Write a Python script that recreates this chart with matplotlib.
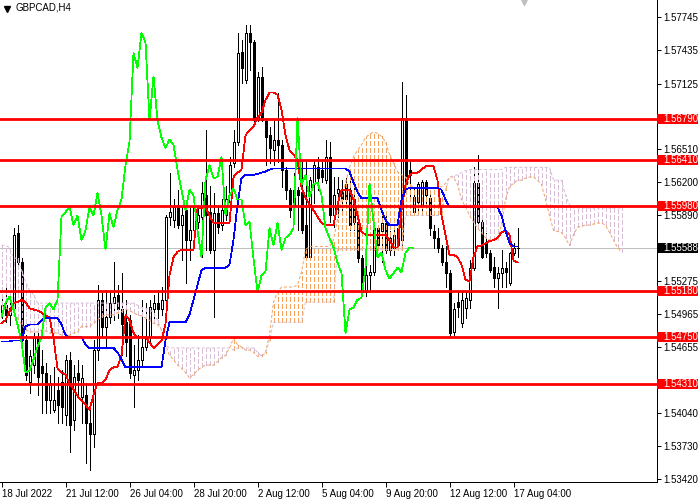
import matplotlib
matplotlib.use('Agg')
import matplotlib.pyplot as plt
import numpy as np
from matplotlib.patches import Rectangle
from matplotlib.lines import Line2D
import matplotlib.transforms as mtransforms

plt.rcParams['font.family'] = ['Liberation Sans', 'DejaVu Sans']
plt.rcParams['lines.scale_dashes'] = False

symbol = 'GBPCAD,H4'
date_labels = ['18 Jul 2022', '21 Jul 12:00', '26 Jul 04:00', '28 Jul 20:00', '2 Aug 12:00',
               '5 Aug 04:00', '9 Aug 20:00', '12 Aug 12:00', '17 Aug 04:00']
date_label_bars = [0, 16, 32, 48, 64, 80, 96, 112, 128]

opens = [1.5499, 1.5505, 1.5496, 1.5502, 1.5573, 1.5545, 1.5472, 1.5433, 1.5449, 1.5474,
         1.5448, 1.5442, 1.5416, 1.5407, 1.5426, 1.5433, 1.5402, 1.5454, 1.5398, 1.5442,
         1.5419, 1.5421, 1.5395, 1.5384, 1.5463, 1.5510, 1.5485, 1.5494, 1.5507, 1.5515,
         1.5501, 1.5489, 1.5491, 1.5440, 1.5444, 1.5454, 1.5466, 1.5475, 1.5501, 1.5507,
         1.5501, 1.5510, 1.5588, 1.5585, 1.5599, 1.5580, 1.5594, 1.5566, 1.5575, 1.5583,
         1.5588, 1.5608, 1.5592, 1.5557, 1.5591, 1.5580, 1.5589, 1.5602, 1.5638, 1.5658,
         1.5742, 1.5716, 1.5760, 1.5751, 1.5678, 1.5719, 1.5677, 1.5664, 1.5650, 1.5660,
         1.5655, 1.5632, 1.5613, 1.5599, 1.5613, 1.5611, 1.5580, 1.5550, 1.5618, 1.5634,
         1.5632, 1.5622, 1.5644, 1.5589, 1.5610, 1.5614, 1.5618, 1.5613, 1.5604, 1.5583,
         1.5549, 1.5517, 1.5533, 1.5536, 1.5577, 1.5574, 1.5582, 1.5557, 1.5559, 1.5561,
         1.5566, 1.5680, 1.5632, 1.5592, 1.5602, 1.5599, 1.5620, 1.5605, 1.5574, 1.5568,
         1.5559, 1.5545, 1.5535, 1.5480, 1.5508, 1.5488, 1.5502, 1.5510, 1.5540, 1.5619,
         1.5583, 1.5563, 1.5554, 1.5541, 1.5530, 1.5535, 1.5540, 1.5526, 1.5554, 1.5559]
highs = [1.5512, 1.5522, 1.5508, 1.5577, 1.5580, 1.5549, 1.5477, 1.5463, 1.5482, 1.5484,
         1.5463, 1.5451, 1.5440, 1.5447, 1.5438, 1.5444, 1.5458, 1.5461, 1.5449, 1.5454,
         1.5449, 1.5432, 1.5407, 1.5472, 1.5524, 1.5516, 1.5519, 1.5517, 1.5545, 1.5524,
         1.5535, 1.5510, 1.5496, 1.5468, 1.5477, 1.5510, 1.5507, 1.5510, 1.5515, 1.5519,
         1.5522, 1.5589, 1.5629, 1.5604, 1.5613, 1.5597, 1.5599, 1.5597, 1.5604, 1.5599,
         1.5620, 1.5669, 1.5617, 1.5610, 1.5599, 1.5604, 1.5617, 1.5644, 1.5669, 1.5760,
         1.5753, 1.5767, 1.5767, 1.5753, 1.5723, 1.5728, 1.5680, 1.5672, 1.5677, 1.5704,
         1.5660, 1.5634, 1.5615, 1.5629, 1.5616, 1.5641, 1.5641, 1.5625, 1.5641, 1.5644,
         1.5639, 1.5660, 1.5658, 1.5625, 1.5625, 1.5622, 1.5624, 1.5627, 1.5618, 1.5589,
         1.5552, 1.5545, 1.5543, 1.5583, 1.5580, 1.5589, 1.5589, 1.5574, 1.5580, 1.5583,
         1.5714, 1.5702, 1.5641, 1.5615, 1.5620, 1.5622, 1.5622, 1.5608, 1.5580, 1.5577,
         1.5561, 1.5560, 1.5538, 1.5507, 1.5517, 1.5517, 1.5517, 1.5547, 1.5634, 1.5646,
         1.5585, 1.5573, 1.5557, 1.5550, 1.5541, 1.5557, 1.5545, 1.5555, 1.5563, 1.5577]
lows = [1.5493, 1.5489, 1.5486, 1.5499, 1.5540, 1.5468, 1.5435, 1.5423, 1.5442, 1.5421,
        1.5404, 1.5404, 1.5404, 1.5405, 1.5395, 1.5395, 1.5393, 1.5368, 1.5388, 1.5421,
        1.5395, 1.5357, 1.5351, 1.5372, 1.5454, 1.5475, 1.5466, 1.5488, 1.5491, 1.5493,
        1.5458, 1.5457, 1.5437, 1.5410, 1.5435, 1.5449, 1.5463, 1.5468, 1.5491, 1.5493,
        1.5496, 1.5501, 1.5580, 1.5578, 1.5577, 1.5547, 1.5526, 1.5547, 1.5571, 1.5577,
        1.5550, 1.5557, 1.5554, 1.5494, 1.5573, 1.5575, 1.5585, 1.5599, 1.5634, 1.5655,
        1.5713, 1.5713, 1.5725, 1.5677, 1.5677, 1.5677, 1.5636, 1.5638, 1.5636, 1.5639,
        1.5616, 1.5604, 1.5588, 1.5588, 1.5575, 1.5573, 1.5549, 1.5549, 1.5601, 1.5613,
        1.5620, 1.5619, 1.5583, 1.5578, 1.5588, 1.5594, 1.5599, 1.5575, 1.5575, 1.5545,
        1.5515, 1.5514, 1.5519, 1.5533, 1.5557, 1.5545, 1.5554, 1.5552, 1.5552, 1.5559,
        1.5561, 1.5615, 1.5604, 1.5589, 1.5589, 1.5591, 1.5597, 1.5571, 1.5559, 1.5555,
        1.5543, 1.5522, 1.5475, 1.5477, 1.5494, 1.5485, 1.5493, 1.5502, 1.5538, 1.5582,
        1.5549, 1.5550, 1.5536, 1.5522, 1.5502, 1.5522, 1.5522, 1.5524, 1.5552, 1.5550]
closes = [1.5505, 1.5496, 1.5502, 1.5571, 1.5545, 1.5472, 1.5440, 1.5457, 1.5474, 1.5438,
          1.5442, 1.5416, 1.5432, 1.5416, 1.5412, 1.5410, 1.5454, 1.5393, 1.5438, 1.5435,
          1.5437, 1.5395, 1.5384, 1.5463, 1.5510, 1.5485, 1.5494, 1.5507, 1.5513, 1.5501,
          1.5487, 1.5471, 1.5442, 1.5444, 1.5454, 1.5466, 1.5475, 1.5503, 1.5507, 1.5501,
          1.5510, 1.5588, 1.5592, 1.5597, 1.5580, 1.5589, 1.5566, 1.5575, 1.5597, 1.5589,
          1.5610, 1.5589, 1.5557, 1.5591, 1.5578, 1.5594, 1.5604, 1.5636, 1.5658, 1.5741,
          1.5727, 1.5760, 1.5751, 1.5678, 1.5719, 1.5678, 1.5662, 1.5652, 1.5660, 1.5655,
          1.5632, 1.5613, 1.5594, 1.5613, 1.5608, 1.5575, 1.5550, 1.5622, 1.5636, 1.5624,
          1.5625, 1.5644, 1.5589, 1.5608, 1.5614, 1.5604, 1.5604, 1.5580, 1.5583, 1.5549,
          1.5517, 1.5533, 1.5536, 1.5577, 1.5561, 1.5582, 1.5557, 1.5568, 1.5571, 1.5577,
          1.5680, 1.5618, 1.5627, 1.5606, 1.5618, 1.5620, 1.5608, 1.5577, 1.5568, 1.5559,
          1.5545, 1.5535, 1.5479, 1.5501, 1.5503, 1.5510, 1.5512, 1.5540, 1.5619, 1.5583,
          1.5550, 1.5554, 1.5538, 1.5530, 1.5535, 1.5540, 1.5536, 1.5554, 1.5559, 1.55588]

tenkan = [1.5488, 1.5491, 1.5499, 1.5507, 1.5508, 1.5510, 1.5508, 1.5502, 1.5501, 1.5500,
          1.5498, 1.5495, 1.5494, 1.5474, 1.5446, 1.5442, 1.5440, 1.5432, 1.5426, 1.5420,
          1.5416, 1.5412, 1.5407, 1.5421, 1.5432, 1.5432, 1.5435, 1.5444, 1.5447, 1.5447,
          1.5458, 1.5496, 1.5491, 1.5479, 1.5475, 1.5475, 1.5475, 1.5470, 1.5465, 1.5468,
          1.5472, 1.5487, 1.5533, 1.5550, 1.5555, 1.5557, 1.5557, 1.5557, 1.5557, 1.5596,
          1.5596, 1.5596, 1.5589, 1.5582, 1.5582, 1.5582, 1.5582, 1.5582, 1.5625, 1.5629,
          1.5632, 1.5664, 1.5669, 1.5672, 1.5681, 1.5685, 1.5697, 1.5704, 1.5704, 1.5702,
          1.5688, 1.5664, 1.5650, 1.5646, 1.5641, 1.5615, 1.5606, 1.5599, 1.5594, 1.5588,
          1.5582, 1.5580, 1.5580, 1.5580, 1.5599, 1.5613, 1.5613, 1.5613, 1.5604, 1.5589,
          1.5574, 1.5571, 1.5571, 1.5571, 1.5571, 1.5571, 1.5571, 1.5566, 1.5559, 1.5559,
          1.5594, 1.5618, 1.5627, 1.5629, 1.5629, 1.5632, 1.5635, 1.5635, 1.5635, 1.5622,
          1.5589, 1.5571, 1.5552, 1.5552, 1.5550, 1.5543, 1.5529, 1.5527, 1.5550, 1.5560,
          1.5561, 1.5563, 1.5565, 1.5566, 1.5568, 1.5573, 1.5575, 1.5571, 1.5547, 1.5545]
kijun = [1.5471, 1.5471, 1.5471, 1.5472, 1.5472, 1.5472, 1.5485, 1.5487, 1.5487, 1.5487,
         1.5491, 1.5493, 1.5493, 1.5493, 1.5493, 1.5487, 1.5477, 1.5475, 1.5475, 1.5475,
         1.5475, 1.5468, 1.5465, 1.5465, 1.5465, 1.5465, 1.5465, 1.5465, 1.5465, 1.5461,
         1.5454, 1.5447, 1.5447, 1.5447, 1.5447, 1.5447, 1.5447, 1.5447, 1.5447, 1.5447,
         1.5447, 1.5472, 1.5489, 1.5489, 1.5489, 1.5489, 1.5489, 1.5496, 1.5510, 1.5524,
         1.5538, 1.5540, 1.5540, 1.5540, 1.5540, 1.5540, 1.5540, 1.5543, 1.5566, 1.5599,
         1.5624, 1.5627, 1.5627, 1.5627, 1.5628, 1.5629, 1.5630, 1.5632, 1.5633, 1.5633,
         1.5633, 1.5633, 1.5633, 1.5633, 1.5633, 1.5633, 1.5633, 1.5633, 1.5633, 1.5633,
         1.5633, 1.5633, 1.5633, 1.5633, 1.5633, 1.5633, 1.5633, 1.5630, 1.5620, 1.5611,
         1.5605, 1.5605, 1.5605, 1.5605, 1.5605, 1.5594, 1.5585, 1.5580, 1.5580, 1.5580,
         1.5604, 1.5613, 1.5615, 1.5615, 1.5615, 1.5615, 1.5615, 1.5615, 1.5615, 1.5615,
         1.5613, 1.5604, 1.5597, 1.5597, 1.5597, 1.5597, 1.5597, 1.5597, 1.5597, 1.5597,
         1.5597, 1.5597, 1.5597, 1.5597, 1.5597, 1.5589, 1.5575, 1.5563, 1.5560, 1.5560]
senkou_a = [1.5505, 1.5502, 1.5501, 1.5496, 1.5493, 1.5487, 1.5482, 1.5480, 1.5480, 1.5480,
            1.5482, 1.5481, 1.5479, 1.5479, 1.5479, 1.5477, 1.5475, 1.5477, 1.5479, 1.5480,
            1.5485, 1.5485, 1.5485, 1.5488, 1.5491, 1.5494, 1.5496, 1.5496, 1.5496, 1.5498,
            1.5499, 1.5501, 1.5500, 1.5498, 1.5496, 1.5495, 1.5493, 1.5491, 1.5488, 1.5487,
            1.5482, 1.5468, 1.5458, 1.5454, 1.5449, 1.5446, 1.5442, 1.5437, 1.5440, 1.5444,
            1.5447, 1.5449, 1.5449, 1.5449, 1.5452, 1.5456, 1.5458, 1.5465, 1.5474, 1.5468,
            1.5466, 1.5463, 1.5463, 1.5461, 1.5457, 1.5458, 1.5461, 1.5477, 1.5508, 1.5517,
            1.5522, 1.5522, 1.5522, 1.5522, 1.5524, 1.5536, 1.5557, 1.5560, 1.5560, 1.5560,
            1.5560, 1.5560, 1.5560, 1.5566, 1.5585, 1.5604, 1.5619, 1.5634, 1.5644, 1.5650,
            1.5655, 1.5662, 1.5665, 1.5667, 1.5666, 1.5663, 1.5658, 1.5646, 1.5638, 1.5630,
            1.5627, 1.5625, 1.5618, 1.5615, 1.5615, 1.5615, 1.5615, 1.5615, 1.5615, 1.5615,
            1.5616, 1.5619, 1.5625, 1.5625, 1.5618, 1.5604, 1.5597, 1.5589, 1.5583, 1.5577,
            1.5573, 1.5568, 1.5566, 1.5566, 1.5566, 1.5580, 1.5604, 1.5616, 1.5619, 1.5622,
            1.5622, 1.5624, 1.5625, 1.5625, 1.5622, 1.5618, 1.5604, 1.5589, 1.5575, 1.5574,
            1.5573, 1.5568, 1.5561, 1.5571, 1.5578, 1.5579, 1.5580, 1.5580, 1.5581, 1.5582,
            1.5582, 1.5580, 1.5573, 1.5566, 1.5559, 1.5555]
senkou_b = [1.5561, 1.5561, 1.5559, 1.5549, 1.5549, 1.5538, 1.5527, 1.5519, 1.5515, 1.5507,
            1.5507, 1.5507, 1.5507, 1.5507, 1.5507, 1.5507, 1.5507, 1.5507, 1.5507, 1.5507,
            1.5507, 1.5507, 1.5507, 1.5507, 1.5507, 1.5507, 1.5507, 1.5507, 1.5507, 1.5507,
            1.5507, 1.5507, 1.5507, 1.5507, 1.5505, 1.5503, 1.5502, 1.5501, 1.5498, 1.5491,
            1.5482, 1.5468, 1.5465, 1.5465, 1.5465, 1.5465, 1.5465, 1.5465, 1.5465, 1.5465,
            1.5465, 1.5465, 1.5465, 1.5465, 1.5465, 1.5465, 1.5465, 1.5465, 1.5463, 1.5465,
            1.5465, 1.5465, 1.5465, 1.5465, 1.5461, 1.5457, 1.5460, 1.5472, 1.5489, 1.5489,
            1.5489, 1.5489, 1.5489, 1.5489, 1.5489, 1.5489, 1.5508, 1.5508, 1.5508, 1.5508,
            1.5508, 1.5508, 1.5508, 1.5508, 1.5557, 1.5557, 1.5557, 1.5557, 1.5557, 1.5557,
            1.5557, 1.5557, 1.5557, 1.5557, 1.5557, 1.5557, 1.5557, 1.5557, 1.5557, 1.5557,
            1.5557, 1.5589, 1.5589, 1.5589, 1.5589, 1.5589, 1.5589, 1.5589, 1.5589, 1.5589,
            1.5589, 1.5613, 1.5625, 1.5626, 1.5627, 1.5629, 1.5631, 1.5632, 1.5632, 1.5632,
            1.5632, 1.5632, 1.5632, 1.5632, 1.5632, 1.5632, 1.5634, 1.5634, 1.5634, 1.5634,
            1.5634, 1.5634, 1.5634, 1.5634, 1.5634, 1.5634, 1.5634, 1.5634, 1.5622, 1.5622,
            1.5622, 1.5608, 1.5599, 1.5596, 1.5596, 1.5596, 1.5596, 1.5596, 1.5596, 1.5596,
            1.5596, 1.5596, 1.5596, 1.5596, 1.5596, 1.5596]
chikou_shift = 26

level_prices = [1.56790, 1.56410, 1.55980, 1.55180, 1.54750, 1.54310]
current_price = 1.55588
price_ticks = [1.57745, 1.57435, 1.57125, 1.56510, 1.56200, 1.55890,
               1.55275, 1.54965, 1.54655, 1.54040, 1.53730, 1.53420]

W, H = 700, 500
PLOT_W, PLOT_H = 657, 482
BAR_PX = 4.0
Y_TOP, Y_BOT = 1.57907, 1.53395

fig = plt.figure(figsize=(W / 100, H / 100), dpi=100)
fig.patch.set_facecolor('white')
ax = fig.add_axes([0, (H - PLOT_H) / H, PLOT_W / W, PLOT_H / H])
ax.set_facecolor('white')

o = np.array(opens); h = np.array(highs); l = np.array(lows); c = np.array(closes)
x = np.arange(len(c))
px = 0.72   # one pixel in points
thin = 0.55

# current price (bid) line
ax.axhline(current_price, color='#C0C0C0', lw=px, zorder=1)

# candles
hi = np.maximum(h, np.maximum(o, c)); lo = np.minimum(l, np.minimum(o, c))
ax.vlines(x, lo, hi, colors='black', lw=thin, zorder=2, antialiased=False)
bull = c >= o
ax.bar(x, np.abs(c - o), bottom=np.minimum(o, c), width=0.5,
       color=['white' if b else 'black' for b in bull], edgecolor='black',
       linewidth=thin, zorder=3, antialiased=False)

# Ichimoku cloud
sa = np.array(senkou_a); sb = np.array(senkou_b)
xs = np.arange(len(sa))
hatch_cols = ['#F4A460' if a >= b else '#D8BFD8' for a, b in zip(sa, sb)]
ax.vlines(xs, np.minimum(sa, sb), np.maximum(sa, sb), colors=hatch_cols, lw=thin,
          linestyles=[(0, (2.9, 1.45))], zorder=4, antialiased=False)
ax.plot(xs, sa, color='#F4A460', lw=px, ls=(0, (2.2, 1.45)), zorder=4.5)
ax.plot(xs, sb, color='#D8BFD8', lw=px, ls=(0, (2.2, 1.45)), zorder=4.5)

# Tenkan / Kijun / Chikou
ax.plot(x, tenkan, color='#FF0000', lw=thin, zorder=5, antialiased=False)
ax.plot(x, kijun, color='#0000FF', lw=thin, zorder=5, antialiased=False)
ax.plot(x[:-chikou_shift], c[chikou_shift:], color='#00FF00', lw=thin, zorder=5,
        antialiased=False)

# horizontal levels
for p in level_prices:
    ax.axhline(p, color='#FF0000', lw=2.0, zorder=6)

ax.set_xlim(-1.5 / BAR_PX, -1.5 / BAR_PX + PLOT_W / BAR_PX)
ax.set_ylim(Y_BOT, Y_TOP)

for s in ['top', 'left']:
    ax.spines[s].set_visible(False)
for s in ['right', 'bottom']:
    ax.spines[s].set_linewidth(px)
    ax.spines[s].set_color('black')

ax.yaxis.tick_right()
ax.set_yticks(price_ticks)
ax.set_yticklabels([f'{v:.5f}' for v in price_ticks])
ax.tick_params(axis='y', direction='out', length=2.9, width=px, pad=1.4, labelsize=7,
               colors='black')
ax.set_xticks(date_label_bars)
ax.set_xticklabels(date_labels)
ax.tick_params(axis='x', direction='out', length=3.6, width=px, pad=1.2, labelsize=7,
               colors='black')
for lbl in ax.get_xticklabels():
    lbl.set_horizontalalignment('left')

# price label boxes on the right scale
dpp = (Y_TOP - Y_BOT) / PLOT_H
trans = mtransforms.blended_transform_factory(fig.transFigure, ax.transData)
def price_box(p, fc):
    r = Rectangle((PLOT_W / W, p - 5 * dpp), 41 / W, 10 * dpp, transform=trans,
                  facecolor=fc, edgecolor='none', clip_on=False, zorder=7)
    ax.add_patch(r)
    ax.text(663 / W, p, f'{p:.5f}', transform=trans, color='white', fontsize=7,
            va='center', ha='left', zorder=8, clip_on=False)
for p in level_prices:
    price_box(p, '#FF0000')
price_box(current_price, 'black')

# chart shift marker at top
ax.plot([(524 - 1.5) / BAR_PX], [Y_TOP - 1 * dpp], marker='v', ms=6, color='#C0C0C0',
        zorder=9, clip_on=True)

# title
fig.add_artist(Line2D([7 / W], [1 - 8.5 / H], marker='v', ms=4.5, color='black',
                      transform=fig.transFigure))
fig.text(15 / W, 1 - 8 / H, symbol, fontsize=7, va='center', ha='left', color='black')

fig.savefig('out.png', dpi=100)
